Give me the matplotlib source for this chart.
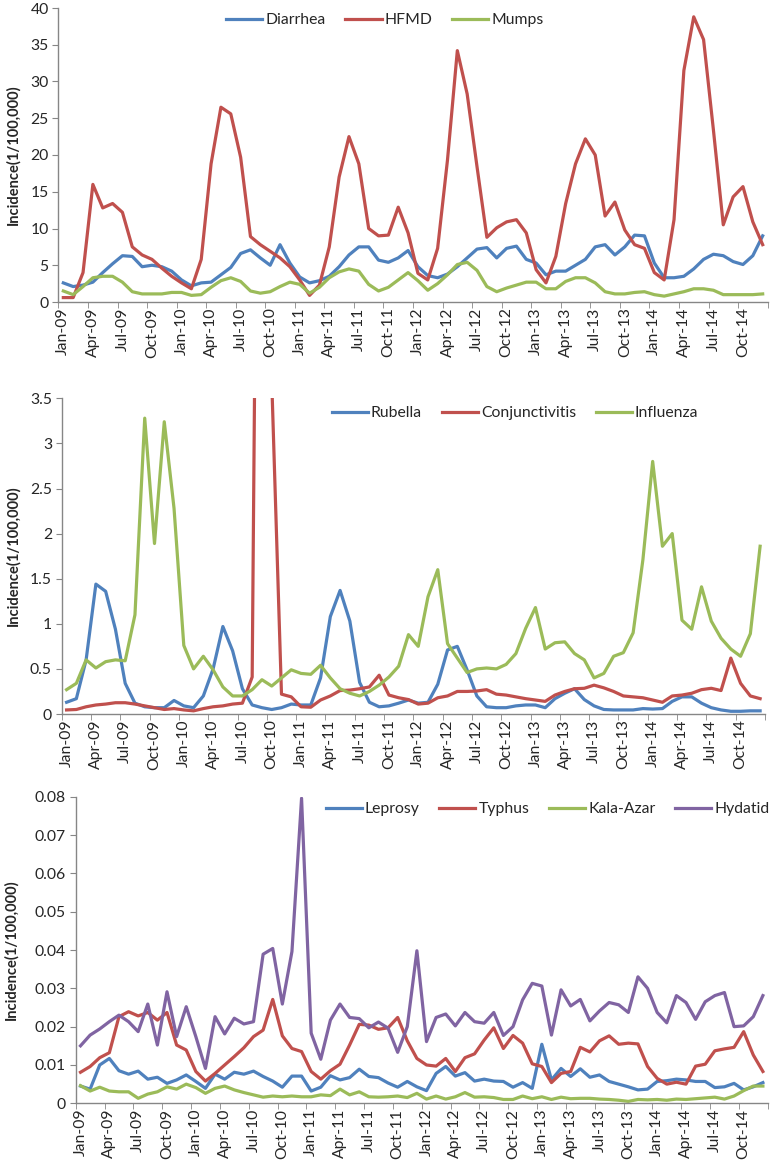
import matplotlib
matplotlib.use("Agg")
import matplotlib.pyplot as plt
from matplotlib.ticker import FixedLocator, MultipleLocator

plt.rcParams['font.family'] = ['Lato', 'DejaVu Sans']

months = ['Jan', 'Feb', 'Mar', 'Apr', 'May', 'Jun', 'Jul', 'Aug', 'Sep', 'Oct', 'Nov', 'Dec']
dates = [f"{m}-{y:02d}" for y in range(9, 15) for m in months]

# Panel 1
diarrhea = [2.6, 2.1, 2.3, 2.7, 4.0, 5.2, 6.3, 6.2, 4.8, 5.0, 4.8, 4.2,
            3.0, 2.2, 2.6, 2.7, 3.7, 4.7, 6.6, 7.1, 6.0, 5.0, 7.8, 5.3,
            3.4, 2.6, 2.9, 3.5, 4.8, 6.4, 7.5, 7.5, 5.7, 5.4, 6.0, 7.0,
            4.8, 3.6, 3.3, 3.8, 4.8, 6.0, 7.2, 7.4, 6.0, 7.3, 7.6, 5.8,
            5.3, 3.7, 4.2, 4.2, 5.0, 5.8, 7.5, 7.8, 6.4, 7.5, 9.1, 9.0,
            5.3, 3.3, 3.3, 3.5, 4.5, 5.8, 6.5, 6.3, 5.5, 5.1, 6.3, 9.0]
hfmd = [0.6, 0.6, 4.0, 16.0, 12.8, 13.4, 12.2, 7.5, 6.4, 5.8, 4.6, 3.5,
        2.6, 1.8, 5.8, 18.8, 26.5, 25.6, 19.7, 8.9, 7.8, 6.9, 6.0, 4.8,
        3.0, 0.9, 2.3, 7.5, 17.0, 22.5, 18.8, 10.0, 9.0, 9.1, 12.9, 9.4,
        3.9, 3.0, 7.3, 19.3, 34.2, 28.3, 18.4, 8.8, 10.1, 10.9, 11.2, 9.4,
        4.4, 2.6, 6.2, 13.4, 18.8, 22.2, 20.0, 11.7, 13.6, 9.8, 7.8, 7.3,
        4.0, 3.0, 11.2, 31.5, 38.8, 35.7, 23.4, 10.5, 14.3, 15.7, 10.9, 7.8]
mumps = [1.5, 1.0, 2.1, 3.3, 3.5, 3.5, 2.7, 1.4, 1.1, 1.1, 1.1, 1.3,
         1.3, 0.9, 1.0, 2.0, 2.9, 3.3, 2.8, 1.5, 1.2, 1.4, 2.1, 2.7,
         2.4, 1.2, 2.0, 3.3, 4.1, 4.5, 4.2, 2.4, 1.5, 2.0, 3.0, 4.0,
         2.9, 1.6, 2.5, 3.7, 5.1, 5.4, 4.3, 2.1, 1.4, 1.9, 2.3, 2.7,
         2.7, 1.8, 1.8, 2.8, 3.3, 3.3, 2.6, 1.4, 1.1, 1.1, 1.3, 1.4,
         1.0, 0.8, 1.1, 1.4, 1.8, 1.8, 1.6, 1.0, 1.0, 1.0, 1.0, 1.1]

# Panel 2
rubella = [0.13, 0.17, 0.60, 1.44, 1.36, 0.94, 0.34, 0.12, 0.08, 0.07, 0.07, 0.15,
           0.09, 0.07, 0.20, 0.50, 0.97, 0.70, 0.28, 0.10, 0.07, 0.05, 0.07, 0.11,
           0.10, 0.10, 0.40, 1.08, 1.37, 1.03, 0.35, 0.13, 0.08, 0.09, 0.12, 0.155,
           0.12, 0.13, 0.33, 0.71, 0.75, 0.49, 0.20, 0.08, 0.07, 0.07, 0.09, 0.10,
           0.10, 0.07, 0.17, 0.23, 0.28, 0.16, 0.09, 0.05, 0.045, 0.045, 0.045, 0.06,
           0.055, 0.06, 0.14, 0.19, 0.19, 0.12, 0.07, 0.045, 0.03, 0.03, 0.035, 0.035]
conjunctivitis = [0.045, 0.05, 0.08, 0.10, 0.11, 0.125, 0.125, 0.11, 0.09, 0.07, 0.05, 0.06,
                  0.045, 0.035, 0.06, 0.08, 0.09, 0.11, 0.12, 0.41, 13.5, 3.7, 0.22, 0.19,
                  0.08, 0.075, 0.155, 0.20, 0.26, 0.265, 0.28, 0.30, 0.43, 0.21, 0.18, 0.16,
                  0.11, 0.12, 0.18, 0.20, 0.25, 0.25, 0.255, 0.27, 0.22, 0.21, 0.19, 0.17,
                  0.155, 0.14, 0.21, 0.25, 0.28, 0.285, 0.32, 0.29, 0.25, 0.20, 0.19, 0.18,
                  0.155, 0.13, 0.20, 0.21, 0.23, 0.27, 0.285, 0.26, 0.62, 0.34, 0.20, 0.17]
influenza = [0.27, 0.34, 0.60, 0.51, 0.58, 0.60, 0.59, 1.10, 3.28, 1.89, 3.24, 2.28,
             0.76, 0.50, 0.64, 0.49, 0.30, 0.20, 0.20, 0.27, 0.38, 0.31, 0.40, 0.49,
             0.45, 0.44, 0.54, 0.40, 0.28, 0.23, 0.20, 0.25, 0.32, 0.41, 0.53, 0.88,
             0.75, 1.30, 1.60, 0.78, 0.62, 0.46, 0.50, 0.51, 0.50, 0.55, 0.67, 0.95,
             1.18, 0.72, 0.79, 0.80, 0.67, 0.60, 0.40, 0.45, 0.64, 0.68, 0.90, 1.71,
             2.80, 1.86, 2.00, 1.04, 0.94, 1.41, 1.03, 0.84, 0.72, 0.64, 0.89, 1.86]

# Panel 3
leprosy = [0.0045, 0.0037, 0.0100, 0.0117, 0.0085, 0.0076, 0.0084, 0.0063, 0.0068, 0.0052, 0.0061, 0.0074,
           0.0057, 0.0039, 0.0076, 0.0063, 0.0081, 0.0076, 0.0084, 0.0070, 0.0058, 0.0042, 0.0071, 0.0071,
           0.0032, 0.0042, 0.0072, 0.0061, 0.0067, 0.0089, 0.0070, 0.0067, 0.0053, 0.0042, 0.0057, 0.0043,
           0.0033, 0.0078, 0.0096, 0.0071, 0.0080, 0.0058, 0.0063, 0.0058, 0.0057, 0.0042, 0.0054, 0.0039,
           0.0154, 0.0061, 0.0091, 0.0070, 0.0090, 0.0068, 0.0074, 0.0057, 0.0050, 0.0043, 0.0035, 0.0037,
           0.0057, 0.0059, 0.0063, 0.0061, 0.0057, 0.0057, 0.0041, 0.0043, 0.0052, 0.0035, 0.0043, 0.0054]
typhus = [0.0081, 0.0096, 0.0119, 0.0132, 0.0226, 0.0239, 0.0228, 0.0237, 0.0217, 0.0237, 0.0152, 0.0139,
          0.0083, 0.0058, 0.0078, 0.0100, 0.0122, 0.0145, 0.0174, 0.0191, 0.0271, 0.0176, 0.0143, 0.0135,
          0.0083, 0.0063, 0.0085, 0.0102, 0.0152, 0.0206, 0.0204, 0.0193, 0.0197, 0.0224, 0.0163, 0.0117,
          0.0100, 0.0097, 0.0117, 0.0083, 0.0119, 0.0129, 0.0165, 0.0197, 0.0143, 0.0177, 0.0157, 0.0103,
          0.0096, 0.0054, 0.0078, 0.0083, 0.0146, 0.0134, 0.0163, 0.0176, 0.0154, 0.0157, 0.0155, 0.0096,
          0.0065, 0.0050, 0.0055, 0.0050, 0.0097, 0.0102, 0.0137, 0.0142, 0.0146, 0.0187, 0.0126, 0.0083]
kala_azar = [0.0046, 0.0032, 0.0042, 0.0032, 0.0030, 0.0030, 0.0013, 0.0024, 0.0030, 0.0043, 0.0037, 0.0050,
             0.0041, 0.0026, 0.0039, 0.0045, 0.0035, 0.0028, 0.0022, 0.0016, 0.0019, 0.0017, 0.0019, 0.0017,
             0.0017, 0.0022, 0.0020, 0.0037, 0.0022, 0.0030, 0.0017, 0.0016, 0.0017, 0.0019, 0.0015, 0.0026,
             0.0011, 0.0019, 0.0011, 0.0017, 0.0028, 0.0016, 0.0017, 0.0015, 0.0010, 0.0010, 0.0019, 0.0012,
             0.0017, 0.0010, 0.0016, 0.0012, 0.0013, 0.0013, 0.0011, 0.0010, 0.0008, 0.0005, 0.0010, 0.0009,
             0.0010, 0.0008, 0.0011, 0.0010, 0.0012, 0.0014, 0.0016, 0.0011, 0.0019, 0.0033, 0.0045, 0.0045]
hydatid = [0.0150, 0.0178, 0.0194, 0.0213, 0.0230, 0.0213, 0.0187, 0.0259, 0.0152, 0.0291, 0.0174, 0.0252,
           0.0174, 0.0091, 0.0226, 0.0181, 0.0222, 0.0207, 0.0213, 0.0389, 0.0404, 0.0259, 0.0396, 0.0796,
           0.0183, 0.0115, 0.0217, 0.0259, 0.0224, 0.0221, 0.0197, 0.0212, 0.0196, 0.0133, 0.0200, 0.0398,
           0.0161, 0.0224, 0.0233, 0.0202, 0.0237, 0.0213, 0.0209, 0.0237, 0.0177, 0.0200, 0.0270, 0.0313,
           0.0306, 0.0178, 0.0296, 0.0254, 0.0271, 0.0215, 0.0241, 0.0263, 0.0257, 0.0237, 0.0330, 0.0300,
           0.0237, 0.0210, 0.0281, 0.0263, 0.0219, 0.0265, 0.0281, 0.0289, 0.0200, 0.0202, 0.0226, 0.0281]

BLUE, RED, GREEN, PURPLE = '#4F81BD', '#C0504D', '#9BBB59', '#8064A2'
AXC = '#868686'
TXT = '#262626'
FS = 11.3

W, H = 770, 1164
fig = plt.figure(figsize=(W / 100, H / 100), dpi=100)

panels = [
    dict(rect=(58.4, 8, 767.6, 302), ylim=(0, 40), ystep=5, fmt='{:g}',
         series=[('Diarrhea', diarrhea, BLUE), ('HFMD', hfmd, RED), ('Mumps', mumps, GREEN)],
         leg=(385, 20), ylab_x=20),
    dict(rect=(61.7, 398.3, 765.0, 714), ylim=(0, 3.5), ystep=0.5, fmt='{:g}',
         series=[('Rubella', rubella, BLUE), ('Conjunctivitis', conjunctivitis, RED),
                 ('Influenza', influenza, GREEN)],
         leg=(515, 413), ylab_x=20),
    dict(rect=(75.7, 796.7, 767.7, 1103.3), ylim=(0, 0.08), ystep=0.01, fmt='{:.2f}',
         series=[('Leprosy', leprosy, BLUE), ('Typhus', typhus, RED),
                 ('Kala-Azar', kala_azar, GREEN), ('Hydatid', hydatid, PURPLE)],
         leg=(547.5, 809), ylab_x=18),
]

n = len(dates)
xs = list(range(n))
for p in panels:
    x0, y0, x1, y1 = p['rect']
    ax = fig.add_axes([x0 / W, 1 - y1 / H, (x1 - x0) / W, (y1 - y0) / H])
    for name, vals, col in p['series']:
        ax.plot(xs, vals, color=col, lw=2.3, label=name, solid_joinstyle='round')
    ax.set_xlim(-0.5, n - 0.5)
    ax.set_ylim(*p['ylim'])
    for s in ['top', 'right']:
        ax.spines[s].set_visible(False)
    for s in ['left', 'bottom']:
        ax.spines[s].set_color(AXC)
        ax.spines[s].set_linewidth(1.0)
    # x ticks: labels at every 3rd category, marks on boundaries
    ax.xaxis.set_major_locator(FixedLocator(xs[::3]))
    ax.set_xticklabels(dates[::3], rotation=90, fontsize=FS, color=TXT)
    ax.xaxis.set_minor_locator(FixedLocator([i - 0.5 for i in range(0, n + 1, 3)]))
    ax.tick_params(axis='x', which='major', length=0, pad=4)
    ax.tick_params(axis='x', which='minor', length=4, color=AXC, direction='out')
    ax.yaxis.set_major_locator(MultipleLocator(p['ystep']))
    ticks = [t for t in ax.get_yticks() if p['ylim'][0] - 1e-9 <= t <= p['ylim'][1] + 1e-9]
    ax.set_yticks(ticks)
    ax.set_yticklabels([('0' if abs(t) < 1e-12 else p['fmt'].format(t)) for t in ticks],
                       fontsize=FS, color=TXT)
    ax.tick_params(axis='y', length=4, color=AXC, direction='out', pad=3)
    ax.set_ylabel('Incidence(1/100,000)', fontsize=10.5, fontweight='bold', color=TXT)
    ax.yaxis.set_label_coords((p['ylab_x'] - x0) / (x1 - x0), 0.5)
    lx, ly = p['leg']
    ax.legend(loc='center', bbox_to_anchor=((lx - x0) / (x1 - x0), 1 - (ly - y0) / (y1 - y0)),
              ncol=len(p['series']), frameon=False, fontsize=FS, handlelength=2.3,
              handletextpad=0.2, columnspacing=1.25, borderpad=0, labelcolor=TXT)

fig.savefig('out.png', dpi=100)
